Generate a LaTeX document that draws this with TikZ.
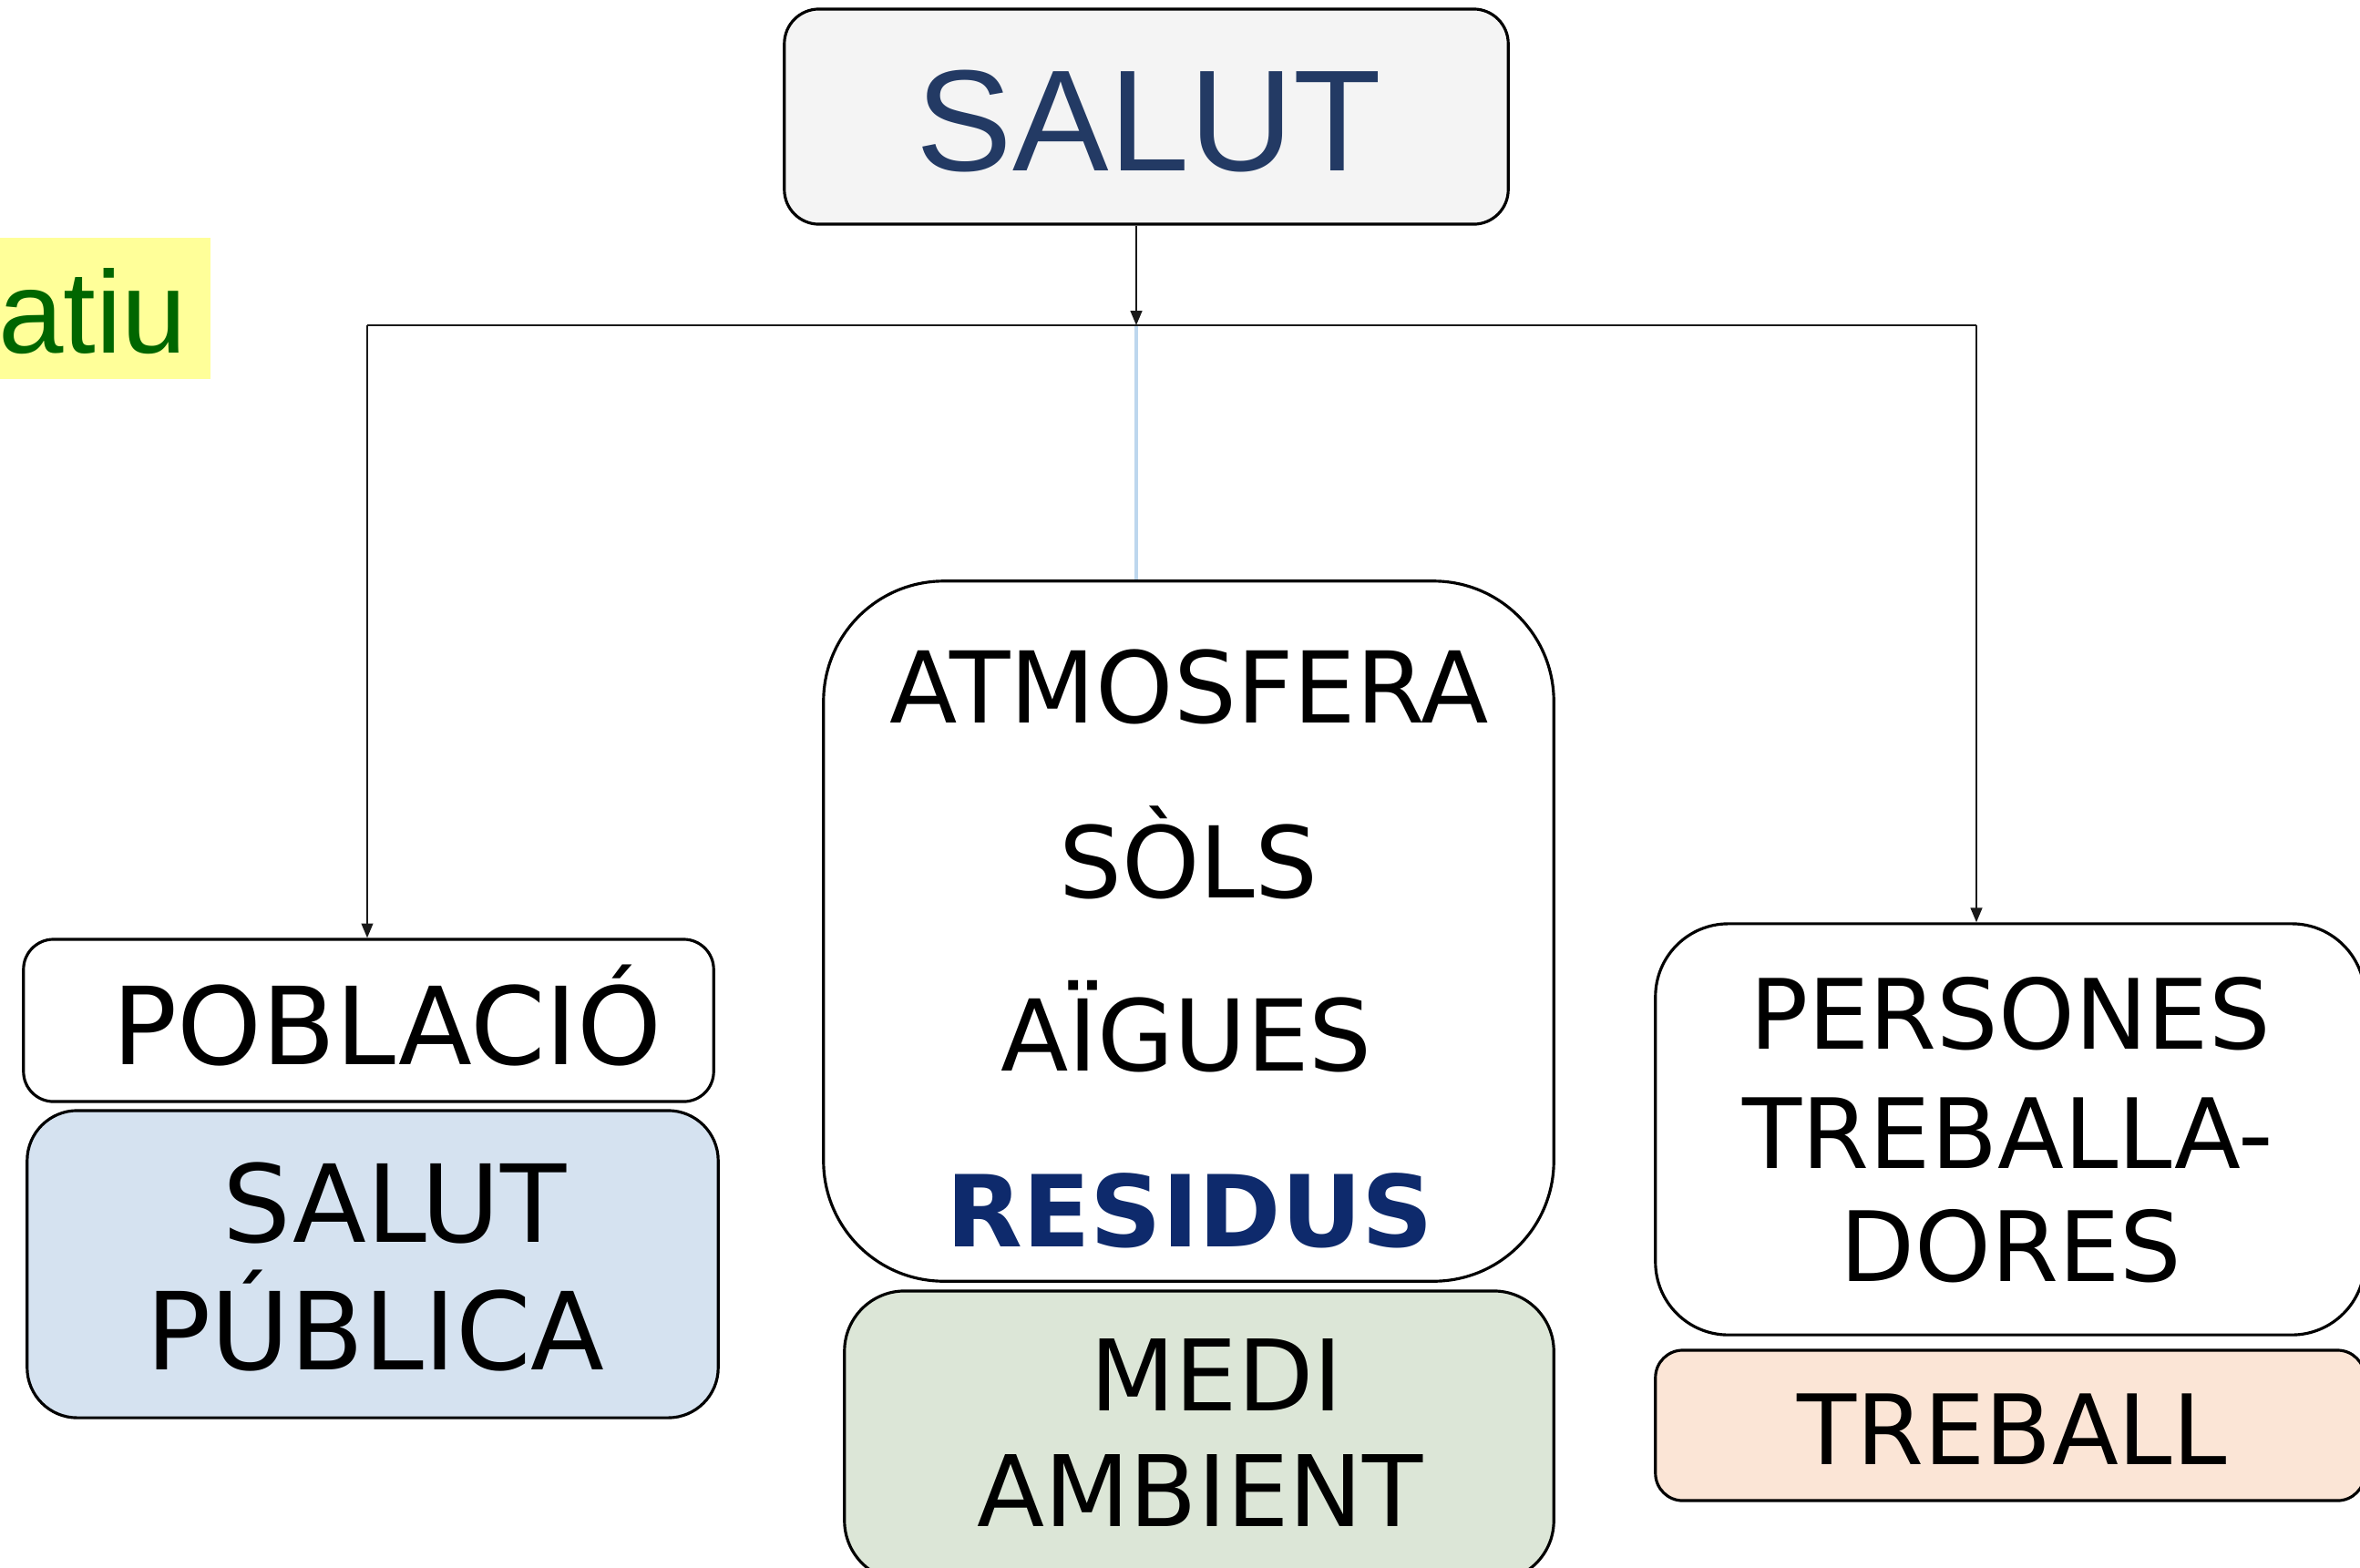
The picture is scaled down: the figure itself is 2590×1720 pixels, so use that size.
\documentclass[tikz,border=0pt]{standalone}
\usepackage{fontspec}
\usetikzlibrary{arrows.meta,calc}
\newfontfamily\dv{DejaVu Sans}
\newfontfamily\lib{Liberation Sans}
\definecolor{titlefill}{HTML}{F4F4F4}
\definecolor{titletext}{HTML}{233A64}
\definecolor{bluefill}{HTML}{D5E2F0}
\definecolor{greenfill}{HTML}{DCE6D7}
\definecolor{orangefill}{HTML}{FBE5D6}
\definecolor{yellowfill}{HTML}{FFFF99}
\definecolor{greentext}{HTML}{006600}
\definecolor{lightline}{HTML}{BDD7EE}
\definecolor{navy}{HTML}{0E2A6C}
\tikzset{
  boxbase/.style={draw=black, line width=0.9pt, rectangle, inner sep=0pt},
  lbl/.style={anchor=base, inner sep=0pt, text=black},
  conn/.style={draw=black!90, line width=0.6pt},
  arr/.style={conn, -{Triangle[length=4.5pt,width=3.6pt]}},
}
\begin{document}
\begin{tikzpicture}[x=0.01cm,y=-0.01cm]
\useasboundingbox (0,0) rectangle (2590,1720);
\clip (0,0) rectangle (2590,1720);
\fill[white] (0,0) rectangle (2590,1720);

% left yellow label
\node[fill=yellowfill, minimum width=2.31cm, minimum height=1.55cm, inner sep=0pt] (ybox) at (115.5,338.5) {};
\node[anchor=base east, inner sep=0pt, text=greentext, font=\lib\fontsize{36.5pt}{40pt}\selectfont] (ytext) at (206,387) {atiu};

% boxes
\node[boxbase, fill=titlefill, rounded corners=0.38cm, minimum width=7.94cm, minimum height=2.36cm] (salut) at (1258,128) {};
\node[boxbase, fill=white, rounded corners=1.32cm, minimum width=8.01cm, minimum height=7.68cm] (mid) at (1304.5,1022) {};
\node[boxbase, fill=white, rounded corners=0.33cm, minimum width=7.57cm, minimum height=1.78cm] (pob) at (404.5,1120) {};
\node[boxbase, fill=bluefill, rounded corners=0.55cm, minimum width=7.58cm, minimum height=3.37cm] (sp) at (409,1387.5) {};
\node[boxbase, fill=greenfill, rounded corners=0.66cm, minimum width=7.78cm, minimum height=3.18cm] (medi) at (1316,1576) {};
\node[boxbase, fill=white, rounded corners=0.8cm, minimum width=7.78cm, minimum height=4.51cm] (pers) at (2206,1239.5) {};
\node[boxbase, fill=orangefill, rounded corners=0.3cm, minimum width=7.78cm, minimum height=1.65cm] (treb) at (2206,1564.5) {};

% texts
\node[lbl, text=titletext, font=\lib\fontsize{45pt}{50pt}\selectfont] (tsalut) at (1261,187) {SALUT};
\node[lbl, font=\dv\fontsize{30.9pt}{36pt}\selectfont] (tatm) at (1305,793) {ATMOSFERA};
\node[lbl, font=\dv\fontsize{30.9pt}{36pt}\selectfont] (tsols) at (1304,985) {SÒLS};
\node[lbl, font=\dv\fontsize{30.9pt}{36pt}\selectfont] (taig) at (1302,1175) {AÏGUES};
\node[lbl, text=navy, font=\dv\bfseries\fontsize{31pt}{36pt}\selectfont] (tres) at (1306,1368) {RESIDUS};
\node[lbl, font=\dv\fontsize{33.6pt}{40pt}\selectfont] (tpob) at (425,1168) {POBLACIÓ};
\node[lbl, font=\dv\fontsize{33.6pt}{40pt}\selectfont] (tsp1) at (433,1363) {SALUT};
\node[lbl, font=\dv\fontsize{33.6pt}{40pt}\selectfont] (tsp2) at (412,1503) {PÚBLICA};
\node[lbl, font=\dv\fontsize{30.8pt}{36pt}\selectfont] (tmedi1) at (1335,1548) {MEDI};
\node[lbl, font=\dv\fontsize{30.8pt}{36pt}\selectfont] (tmedi2) at (1317,1675) {AMBIENT};
\node[lbl, font=\dv\fontsize{30.3pt}{36pt}\selectfont] (tpers1) at (2206,1151) {PERSONES};
\node[lbl, font=\dv\fontsize{30.3pt}{36pt}\selectfont] (tpers2) at (2204,1282) {TREBALLA-};
\node[lbl, font=\dv\fontsize{30.3pt}{36pt}\selectfont] (tpers3) at (2207,1406) {DORES};
\node[lbl, font=\dv\fontsize{30.3pt}{36pt}\selectfont] (ttreb) at (2208,1607) {TREBALL};

% connectors
\coordinate (hm) at (1247,357);
\coordinate (hl) at (403,357);
\coordinate (hr) at (2169,357);
\draw[lightline, line width=1.1pt] (hm) -- (hm |- mid.north);
\draw[conn] (hl) -- (hr);
\draw[arr] (salut.south -| hm) -- (hm);
\draw[arr] (hl) -- (hl |- pob.north);
\draw[arr] (hr) -- (hr |- pers.north);
\end{tikzpicture}
\end{document}
